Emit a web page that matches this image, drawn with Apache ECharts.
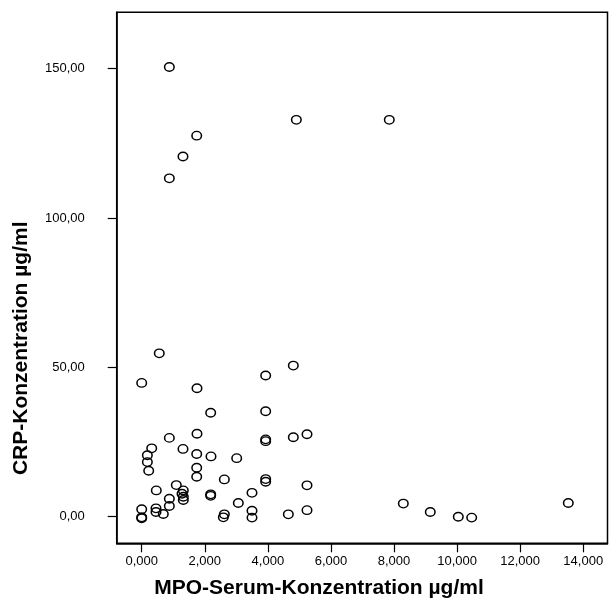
<!DOCTYPE html>
<html>
<head>
<meta charset="utf-8">
<script src="https://cdn.jsdelivr.net/npm/echarts@6/dist/echarts.min.js"></script>
<style>html,body{margin:0;padding:0;background:#fff}#c{width:609px;height:600px}</style>
</head>
<body>
<div id="c"></div>
<script>
// MPO-Serum-Konzentration (µg/ml)
var mpo = [0.557, 0.000, 4.807, 3.931, 1.753, 2.187, 3.931, 0.876, 1.753, 3.931, 3.931, 4.807, 5.241,
  0.317, 1.309, 0.179, 0.179, 0.222, 1.744, 2.197, 3.012, 1.744, 1.744, 2.620, 3.931, 3.931, 5.241,
  0.463, 1.097, 1.319, 1.278, 1.319, 1.319, 0.876, 0.876, 2.187, 2.187, 3.497, 3.063, 0.000, 0.000,
  0.000, 0.453, 0.453, 0.685, 2.620, 2.588, 3.497, 3.497, 4.649, 5.241,
  0.876, 4.903, 1.744, 1.309, 0.876, 7.850,
  8.295, 9.150, 10.038, 10.463, 13.526];
// CRP-Konzentration (µg/ml)
var crp = [54.7, 44.8, 50.6, 47.3, 43.0, 34.8, 35.3, 26.4, 27.8, 25.9, 25.3, 26.6, 27.6,
  22.9, 22.7, 20.6, 18.3, 15.4, 21.0, 20.2, 19.6, 16.4, 13.4, 12.5, 12.6, 11.7, 10.5,
  8.8, 10.6, 8.8, 7.7, 6.7, 5.6, 6.0, 3.6, 7.5, 7.0, 8.0, 4.6, 2.5, -0.2,
  -0.5, 2.8, 1.6, 0.9, 0.8, -0.2, 2.0, -0.3, 0.8, 2.2,
  150.6, 132.9, 127.6, 120.6, 113.3, 132.9,
  4.4, 1.6, 0.0, -0.3, 4.6];
var xTicks = [0, 2, 4, 6, 8, 10, 12, 14];
var yTicks = [0, 50, 100, 150];
var xTitle = 'MPO-Serum-Konzentration µg/ml';
var yTitle = 'CRP-Konzentration µg/ml';

var points = mpo.map(function (v, i) { return [v, crp[i]]; });
var chart = echarts.init(document.getElementById('c'), null, {renderer: 'canvas'});
var font = 'Liberation Sans, Arial, Helvetica, sans-serif';
chart.setOption({
  animation: false,
  backgroundColor: '#fff',
  grid: {left: 116.7, right: 1.5, top: 12.3, bottom: 56.7, show: true, borderColor: '#000', borderWidth: 1.5, backgroundColor: 'transparent'},
  xAxis: {
    type: 'value', min: -0.793, max: 14.769,
    splitLine: {show: false},
    axisLine: {show: true, onZero: false, lineStyle: {color: '#000', width: 1.5}},
    axisTick: {show: true, inside: false, length: 9, customValues: xTicks, lineStyle: {color: '#000', width: 1.2}},
    axisLabel: {customValues: xTicks, margin: 12, color: '#000', fontSize: 13, fontFamily: font,
      formatter: function (v) { return v.toFixed(3).replace('.', ','); }}
  },
  yAxis: {
    type: 'value', min: -8.9, max: 168.9,
    splitLine: {show: false},
    axisLine: {show: true, onZero: false, lineStyle: {color: '#000', width: 1.5}},
    axisTick: {show: true, inside: false, length: 9, customValues: yTicks, lineStyle: {color: '#000', width: 1.2}},
    axisLabel: {customValues: yTicks, margin: 32, color: '#000', fontSize: 13, fontFamily: font,
      formatter: function (v) { return v.toFixed(2).replace('.', ','); }}
  },
  graphic: [
    {type: 'text', position: [319, 588], style: {text: xTitle, x: 0, y: 0, font: 'bold 21px ' + font, fill: '#000', textAlign: 'center', textVerticalAlign: 'middle'}},
    {type: 'text', position: [21.5, 348.3], rotation: Math.PI / 2, style: {text: yTitle, x: 0, y: 0, font: 'bold 21px ' + font, fill: '#000', textAlign: 'center', textVerticalAlign: 'middle'}}
  ],
  series: [{
    type: 'scatter',
    data: points,
    symbol: 'circle',
    symbolSize: [9.5, 8.5],
    itemStyle: {color: 'rgba(0,0,0,0)', borderColor: '#000', borderWidth: 1.45, opacity: 1}
  }]
});
</script>
</body>
</html>
